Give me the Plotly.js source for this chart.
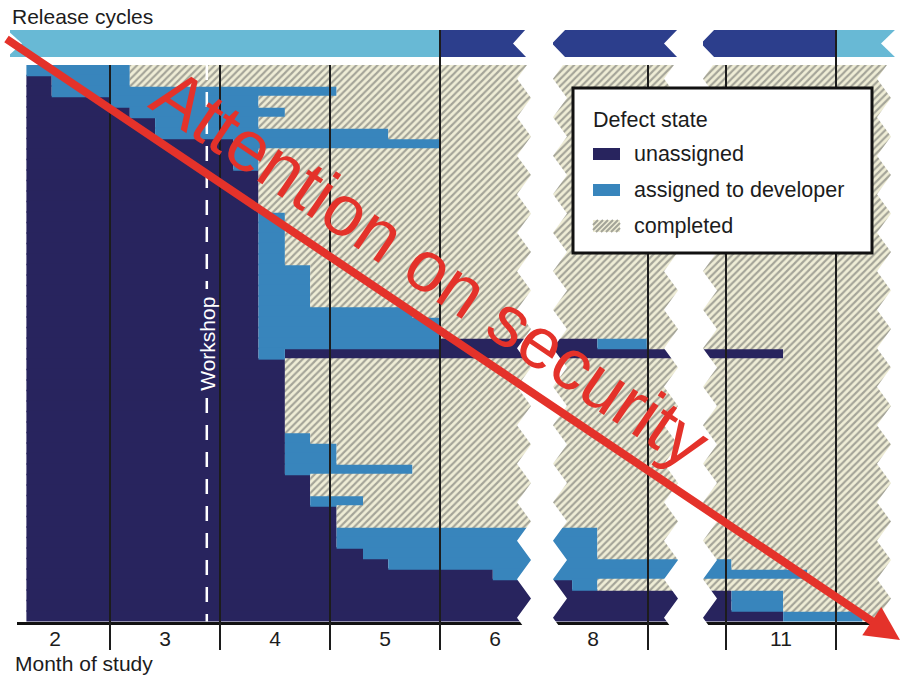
<!DOCTYPE html>
<html>
<head>
<meta charset="utf-8">
<script src="https://cdn.plot.ly/plotly-3.0.1.min.js"></script>
<style>
  html, body { margin: 0; padding: 0; background: #fff; }
  #chart { width: 903px; height: 676px; }
</style>
</head>
<body>
<div id="chart"></div>
<script>
// ---------------------------------------------------------------------------
// Data: time is measured in months of the study (month k runs from k to k+1)
// ---------------------------------------------------------------------------
const studyStart = 2.24;
const studyEnd = 12.6;

// One entry per defect, listed top to bottom.
// Month in which each defect left the unassigned queue.
const assignedAt = [
  2.24, 2.47, 2.47, 3.00, 3.18, 3.41, 3.41, 4.12, 4.12, 4.12,
  4.35, 4.35, 4.35, 4.35, 4.35, 4.35, 4.35, 4.35, 4.35, 4.35,
  4.35, 4.35, 4.35, 4.35, 4.35, 4.35, 4.35, 4.35, 4.59, 4.59,
  4.59, 4.59, 4.59, 4.59, 4.59, 4.59, 4.59, 4.59, 4.59, 4.82,
  4.82, 4.82, 5.06, 5.06, 5.06, 5.06, 5.30, 5.53, 6.48, 8.31,
  11.05, 11.05, 11.52
];
// Month in which each defect was completed.
const completedAt = [
  3.18, 3.18, 5.06, 4.35, 4.59, 4.35, 5.53, 6.00, 4.35, 4.35,
  4.35, 4.35, 4.35, 4.35, 4.59, 4.59, 4.59, 4.59, 4.59, 4.82,
  4.82, 4.82, 4.82, 5.75, 6.00, 6.00, 8.99, 11.52, 4.59, 4.59,
  4.59, 4.59, 4.59, 4.59, 4.59, 4.82, 5.06, 5.06, 5.75, 4.82,
  4.82, 5.30, 5.06, 5.06, 8.54, 8.54, 8.54, 11.05, 11.74, 8.54,
  11.52, 11.52, 12.24
];
// Defects that went back to the unassigned queue, and when they were picked up again.
const reopenedRow = [26, 27];
const reopenedAt = [6.00, 4.59];
const reassignedAt = [8.54, null];

// Release cycles (alternating shading) and the dates that separate them.
const releaseStart = [2.0, 6.0, 12.0];
const releaseEnd = [6.0, 12.0, 12.6];
const releaseDates = [6, 12];

// Month boundaries drawn as vertical rules, and the month labels of each axis piece.
const monthLines = [3, 4, 5, 6, 9, 11, 12];
const monthLabels = [[2, 3, 4, 5, 6], [8], [11]];

const workshopAt = 3.88;

// ---------------------------------------------------------------------------
// Styling and layout helpers
// ---------------------------------------------------------------------------
const W = 903, H = 676;
const px = v => v / W;          // pixel column -> paper fraction
const py = v => 1 - v / H;      // pixel row    -> paper fraction
const FONT = 'Liberation Sans, Arial, Helvetica, sans-serif';
const INK = '#1c1c1c';

const COLORS = {
  unassigned: '#28245e',
  assigned: '#3885bc',
  hatchBg: '#efedd6',
  hatchFg: '#a4a498',
  releaseLight: '#68b9d5',
  releaseDark: '#2c3e8c',
  red: '#e4322a'
};

// The time axis is broken into three pieces; all share the same scale.
const MONTH_PX = 110;
const pieces = [
  { axis: 'x',  key: 'xaxis',  left: 10,  right: 531, refPx: 0,   refMonth: 2 },
  { axis: 'x2', key: 'xaxis2', left: 553, right: 679, refPx: 648, refMonth: 9 },
  { axis: 'x3', key: 'xaxis3', left: 703, right: 895, refPx: 726, refMonth: 11 }
];
pieces.forEach((p, i) => {
  p.range = [p.refMonth + (p.left - p.refPx) / MONTH_PX,
             p.refMonth + (p.right - p.refPx) / MONTH_PX];
  p.labels = monthLabels[i];
});

// ---------------------------------------------------------------------------
// Turn the per-defect timeline into state spans
// ---------------------------------------------------------------------------
const spans = {
  unassigned: { row: [], from: [], len: [] },
  assigned: { row: [], from: [], len: [] },
  completed: { row: [], from: [], len: [] }
};
function addSpan(state, row, from, to) {
  if (to > from) {
    spans[state].row.push(row);
    spans[state].from.push(from);
    spans[state].len.push(to - from);
  }
}
assignedAt.forEach((a, row) => {
  const done = completedAt[row];
  const k = reopenedRow.indexOf(row);
  addSpan('unassigned', row, studyStart, a);
  if (k < 0) {
    addSpan('assigned', row, a, done);
  } else {
    const back = reassignedAt[k];
    addSpan('assigned', row, a, reopenedAt[k]);
    addSpan('unassigned', row, reopenedAt[k], back === null ? done : back);
    if (back !== null) addSpan('assigned', row, back, done);
  }
  addSpan('completed', row, done, studyEnd);
});

const hatch = {
  shape: '/', size: 5, solidity: 0.42,
  fgcolor: COLORS.hatchFg, bgcolor: COLORS.hatchBg, fillmode: 'replace'
};
const stateMarker = {
  unassigned: { color: COLORS.unassigned, line: { width: 0 } },
  assigned: { color: COLORS.assigned, line: { width: 0 } },
  completed: { color: COLORS.hatchBg, pattern: hatch, line: { width: 0 } }
};

// Rows slightly overlap so that neighbouring bars leave no hairline gaps.
const ROW_WIDTH = 1.12;

const traces = [];
pieces.forEach(p => {
  ['unassigned', 'assigned', 'completed'].forEach(state => {
    traces.push({
      type: 'bar', orientation: 'h', xaxis: p.axis, yaxis: 'y',
      y: spans[state].row, base: spans[state].from, x: spans[state].len,
      width: ROW_WIDTH, marker: stateMarker[state],
      hoverinfo: 'skip', showlegend: false
    });
  });
  traces.push({
    type: 'bar', orientation: 'h', xaxis: p.axis, yaxis: 'y2',
    y: releaseStart.map(() => 0), base: releaseStart,
    x: releaseStart.map((s, i) => releaseEnd[i] - s),
    width: 1,
    marker: {
      color: releaseStart.map((s, i) => i % 2 ? COLORS.releaseDark : COLORS.releaseLight),
      line: { width: 0 }
    },
    hoverinfo: 'skip', showlegend: false
  });
});

// ---------------------------------------------------------------------------
// Layout
// ---------------------------------------------------------------------------
const DATA_TOP = 65, DATA_BOTTOM = 621.5;
const STRIP_TOP = 30, STRIP_BOTTOM = 57;
const RULE_BOTTOM = 650;

const layout = {
  width: W, height: H,
  margin: { l: 0, r: 0, t: 0, b: 0, pad: 0 },
  paper_bgcolor: '#ffffff', plot_bgcolor: 'rgba(0,0,0,0)',
  barmode: 'overlay', showlegend: false,
  font: { family: FONT, color: INK },
  yaxis: {
    domain: [py(DATA_BOTTOM), py(DATA_TOP)], range: [assignedAt.length - 0.5, -0.5],
    showticklabels: false, showgrid: false, zeroline: false, showline: false,
    ticks: '', fixedrange: true, anchor: 'x'
  },
  yaxis2: {
    domain: [py(STRIP_BOTTOM), py(STRIP_TOP)], range: [-0.5, 0.5],
    showticklabels: false, showgrid: false, zeroline: false, showline: false,
    ticks: '', fixedrange: true, anchor: 'x'
  },
  shapes: [],
  annotations: []
};
pieces.forEach(p => {
  layout[p.key] = {
    domain: [px(p.left), px(p.right)], range: p.range, anchor: 'y',
    showline: true, linecolor: '#111', linewidth: 3,
    tickvals: p.labels.map(m => m + 0.5), ticktext: p.labels.map(String),
    ticks: '', ticklabelstandoff: -4, showgrid: false, zeroline: false, fixedrange: true,
    tickfont: { size: 21, color: INK, family: FONT }, automargin: false
  };
});

const shapes = layout.shapes;

// Month rules (release dates run up through the release strip)
monthLines.forEach(m => {
  const p = pieces.find(q => m >= q.range[0] && m <= q.range[1]);
  shapes.push({
    type: 'line', xref: p.axis, yref: 'paper', x0: m, x1: m,
    y0: py(RULE_BOTTOM), y1: py(releaseDates.includes(m) ? STRIP_TOP : DATA_TOP),
    line: { color: INK, width: 2 }, layer: 'above'
  });
});

// Workshop marker: dashed rule broken around its label
[[DATA_TOP, 289], [398, DATA_BOTTOM]].forEach(([a, b]) => {
  shapes.push({
    type: 'line', xref: 'x', yref: 'paper', x0: workshopAt, x1: workshopAt,
    y0: py(a), y1: py(b), line: { color: '#ffffff', width: 2.5, dash: '15px,12px' },
    layer: 'above'
  });
});

// Torn edges between the axis pieces
const TOOTH = { period: 38.5, depth: 14, peakY: 98 };
function toothOffset(y) {
  let f = ((y - TOOTH.peakY) / TOOTH.period) % 1;
  if (f < 0) f += 1;
  return TOOTH.depth * Math.abs(1 - 2 * f);
}
function tornGap(leftBase, rightBase, yTop, yBot) {
  const half = TOOTH.period / 2;
  const ys = [yTop];
  const k0 = Math.floor((yTop - TOOTH.peakY) / half);
  const k1 = Math.ceil((yBot - TOOTH.peakY) / half);
  for (let k = k0; k <= k1; k++) {
    const y = TOOTH.peakY + k * half;
    if (y > yTop && y < yBot) ys.push(y);
  }
  ys.push(yBot);
  const down = ys.map(y => [leftBase + toothOffset(y), y]);
  const up = ys.slice().reverse().map(y => [rightBase === null ? W + 4 : rightBase + toothOffset(y), y]);
  const pts = down.concat(up);
  return 'M' + pts.map(([x, y]) => px(x).toFixed(5) + ',' + py(y).toFixed(5)).join('L') + 'Z';
}
function polyPath(pts) {
  return 'M' + pts.map(([x, y]) => px(x).toFixed(5) + ',' + py(y).toFixed(5)).join('L') + 'Z';
}
const white = { type: 'path', xref: 'paper', yref: 'paper', fillcolor: '#ffffff',
                line: { width: 0 }, layer: 'above' };
shapes.push(Object.assign({ path: tornGap(517, 553, 59, 632) }, white));
shapes.push(Object.assign({ path: tornGap(664, 703, 59, 632) }, white));
shapes.push(Object.assign({ path: tornGap(877, null, 59, 632) }, white));
// the axis rule starts a little right of the release strip
shapes.push(Object.assign({ path: polyPath([[6, 619], [17, 619], [17, 628], [6, 628]]) }, white));

// Ribbon ends on the release strip
const sT = STRIP_TOP - 1, sB = STRIP_BOTTOM + 1, sM = (STRIP_TOP + STRIP_BOTTOM) / 2;
[
  [[6, sT], [22, sM], [6, sB]],
  [[526, sT], [513, sM], [527, sB], [566, sB], [552, sM], [566, sT]],
  [[678, sT], [664, sM], [678, sB], [715, sB], [701, sM], [715, sT]],
  [[896, sT], [881, sM], [896, sB], [W + 4, sB], [W + 4, sT]]
].forEach(pts => shapes.push(Object.assign({ path: polyPath(pts) }, white)));

// Legend box
const LEG = { x0: 573, y0: 88, x1: 872, y1: 253, swX0: 593, swX1: 620, textX: 632 };
shapes.push({
  type: 'rect', xref: 'paper', yref: 'paper',
  x0: px(LEG.x0), x1: px(LEG.x1), y0: py(LEG.y1), y1: py(LEG.y0),
  fillcolor: '#ffffff', line: { color: '#111', width: 3 }, layer: 'above'
});
const legendItems = [
  { label: 'unassigned', y: 154, fill: COLORS.unassigned },
  { label: 'assigned to developer', y: 190, fill: COLORS.assigned },
  { label: 'completed', y: 226, fill: COLORS.hatchBg, hatched: true }
];
legendItems.forEach(item => {
  const top = item.y - 6, bot = item.y + 6;
  shapes.push({
    type: 'rect', xref: 'paper', yref: 'paper',
    x0: px(LEG.swX0), x1: px(LEG.swX1), y0: py(bot), y1: py(top),
    fillcolor: item.fill, line: { width: 0 }, layer: 'above'
  });
  if (item.hatched) {
    const h = bot - top;
    let d = '';
    for (let c = LEG.swX0 - h; c < LEG.swX1; c += 5) {
      let xa = c, ya = bot, xb = c + h, yb = top;
      if (xa < LEG.swX0) { ya = bot - (LEG.swX0 - xa); xa = LEG.swX0; }
      if (xb > LEG.swX1) { yb = top + (xb - LEG.swX1); xb = LEG.swX1; }
      if (xb > xa) d += 'M' + px(xa) + ',' + py(ya) + 'L' + px(xb) + ',' + py(yb);
    }
    shapes.push({
      type: 'path', xref: 'paper', yref: 'paper', path: d,
      line: { color: COLORS.hatchFg, width: 2 }, layer: 'above'
    });
  }
});

// ---------------------------------------------------------------------------
// Text
// ---------------------------------------------------------------------------
const ann = layout.annotations;
const txt = (text, x, y, extra) => Object.assign({
  text, x: px(x), y: py(y), xref: 'paper', yref: 'paper',
  xanchor: 'left', yanchor: 'middle', showarrow: false,
  font: { family: FONT, size: 21, color: INK }
}, extra || {});

ann.push(txt('Release cycles', 10, 16));
ann.push(txt('Month of study', 13, 663));
ann.push({
  text: 'Workshop', xref: 'x', yref: 'paper', x: workshopAt, y: py(344),
  textangle: -90, showarrow: false, xanchor: 'center', yanchor: 'middle',
  font: { family: FONT, size: 21, color: '#ffffff' }
});
ann.push(txt('Defect state', LEG.swX0 - 2, 120, { font: { family: FONT, size: 21.5, color: INK } }));
legendItems.forEach(item => {
  ann.push(txt(item.label, LEG.textX, item.y, { font: { family: FONT, size: 21.5, color: INK } }));
});

// Overlaid call-out
ann.push({
  text: '', x: px(900), y: py(640), xref: 'paper', yref: 'paper',
  showarrow: true, ax: -895, ay: -602, arrowcolor: COLORS.red,
  arrowwidth: 8, arrowhead: 2, arrowsize: 0.85, standoff: 0
});
ann.push({
  text: 'Attention on security', x: px(431), y: py(268), xref: 'paper', yref: 'paper',
  textangle: 34, showarrow: false, xanchor: 'center', yanchor: 'middle',
  font: { family: FONT, size: 72, color: COLORS.red }
});

Plotly.newPlot('chart', traces, layout, { staticPlot: true, displayModeBar: false });
</script>
</body>
</html>
